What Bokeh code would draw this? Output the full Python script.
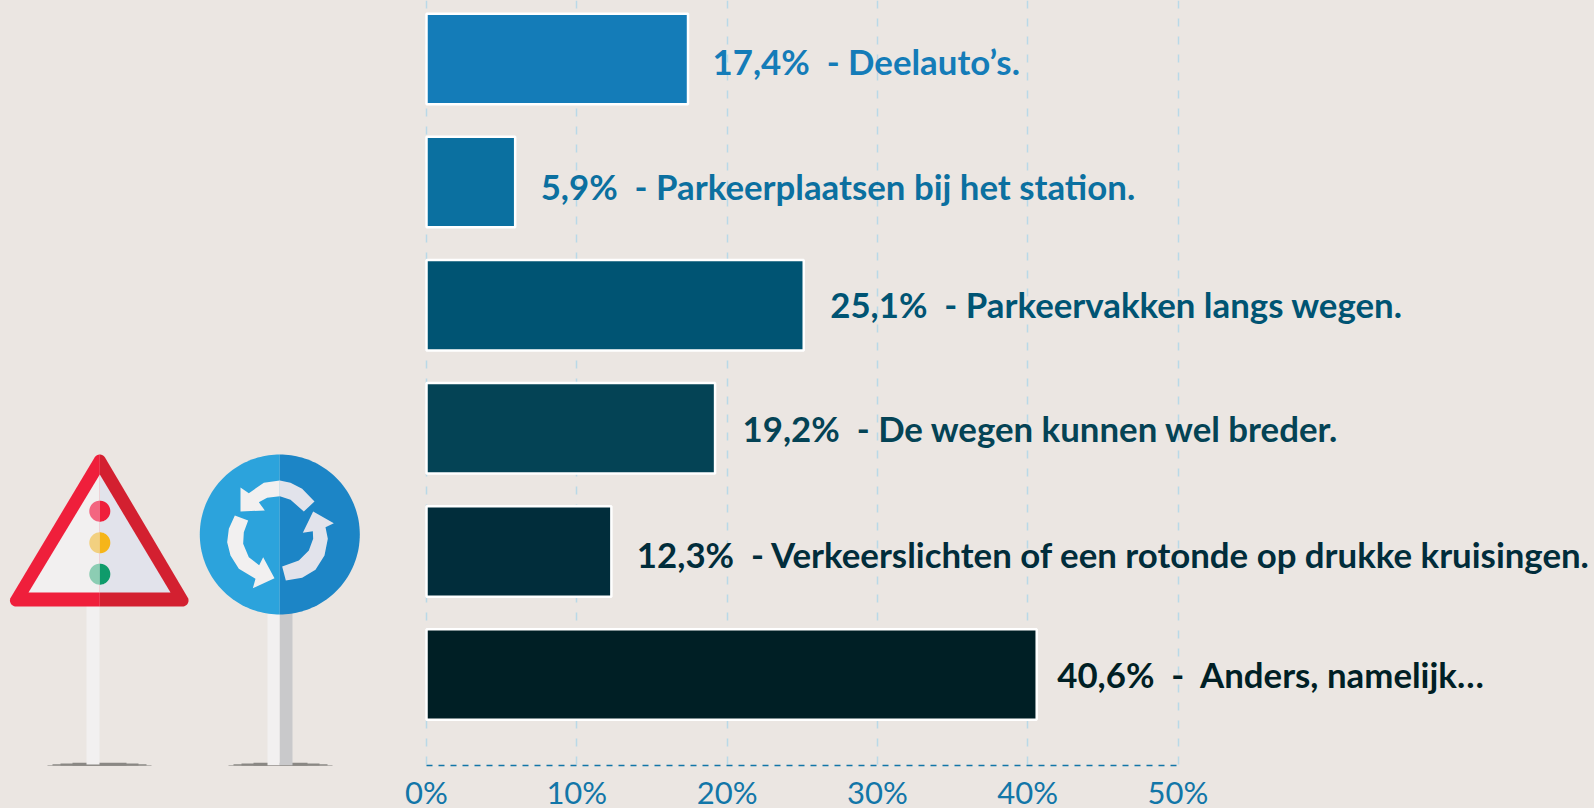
import numpy as np
from bokeh.plotting import figure
from bokeh.models import (BoxAnnotation, ColumnDataSource, FixedTicker, GlobalInlineStyleSheet, Grid, LinearAxis,
                          PrintfTickFormatter, Range1d)
from bokeh.core.properties import value
from bokeh.embed import file_html
from bokeh.resources import INLINE

# ---- data ----
values = [17.4, 5.9, 25.1, 19.2, 12.3, 40.6]
value_labels = ["17,4%", "5,9%", "25,1%", "19,2%", "12,3%", "40,6%"]
answers = ["Deelauto’s.", "Parkeerplaatsen bij het station.", "Parkeervakken langs wegen.",
           "De wegen kunnen wel breder.", "Verkeerslichten of een rotonde op drukke kruisingen.",
           "Anders, namelijk…"]
seps = ["\u00a0\u00a0-\u00a0", "\u00a0\u00a0-\u00a0", "\u00a0\u00a0-\u00a0", "\u00a0\u00a0-\u00a0", "\u00a0\u00a0-\u00a0",
        "\u00a0\u00a0-\u00a0\u00a0"]
colors = ["#147cb8", "#0b70a0", "#005473", "#044355", "#012d3b", "#001f25"]
ticks = [0, 10, 20, 30, 40, 50]
# ---- styles ----
label_dx = [24.5, 25.5, 26.5, 27.5, 25.5, 20.5]
label_dy = [2, 4, -1, 0, 3, 0]
BG = "#ebe6e2"
FONT = "Lato"
AXIS_COLOR = "#1276a8"

W = 1594
AXIS_Y = 765
AXIS_PANEL = 48          # label box height plus standoff; the blank foot of it falls below the window
H = AXIS_Y + AXIS_PANEL
X0, XS = 426, 15.03
Y0, YS = 58.5, 123.1

p = figure(width=W, height=H, output_backend="svg", toolbar_location=None,
           x_range=Range1d(-X0 / XS, (W - X0) / XS),
           y_range=Range1d((AXIS_Y - Y0) / YS, -Y0 / YS),
           x_axis_location=None, y_axis_location=None,
           min_border_left=0, min_border_right=0, min_border_top=0, min_border_bottom=AXIS_PANEL,
           background_fill_color=BG, background_fill_alpha=0, border_fill_color=BG, outline_line_color=None)
p.stylesheets = [GlobalInlineStyleSheet(css=f"html,body{{margin:0;padding:0;background:{BG};overflow:hidden}}")]
p.ygrid.visible = False
p.xgrid.visible = False

p.extra_x_ranges["px"] = Range1d(0, W)
p.extra_y_ranges["px"] = Range1d(AXIS_Y, 0)

axis = LinearAxis(ticker=FixedTicker(ticks=ticks), formatter=PrintfTickFormatter(format="%d%%"),
                  bounds=(0, 50), axis_line_color=AXIS_COLOR, axis_line_width=1.5, axis_line_dash="6 6",
                  major_tick_line_color=None, minor_tick_line_color=None, major_tick_out=0, major_tick_in=0,
                  minor_tick_out=0, minor_tick_in=0,
                  major_label_text_color=AXIS_COLOR, major_label_text_font=FONT,
                  major_label_text_font_size="31px", major_label_standoff=7)
p.add_layout(axis, "below")

grid = Grid(dimension=0, axis=axis, bounds=(-0.45, (AXIS_Y - Y0) / YS), grid_line_color="#b9d9e8",
            grid_line_width=1.5, grid_line_dash="8 10")
p.add_layout(grid)

rank = list(range(len(values)))
src = ColumnDataSource(dict(y=rank, v=values, c=colors,
                            t=[f"{a}{s}{b}" for a, s, b in zip(value_labels, seps, answers)],
                            dx=label_dx, dy=label_dy))
p.hbar(y="y", left=0, right="v", height=0.735, fill_color="c", line_color="white", line_width=2.5, source=src)
p.text(x="v", y="y", text="t", x_offset="dx", y_offset="dy", text_color="c", text_font=value(FONT),
       text_font_style="bold", text_font_size="34.8px", text_baseline="middle", source=src)


# ---- decorative road signs, in page pixels ----
def clip(pts, cx, left):
    out = []
    n = len(pts)
    for i in range(n):
        a, b = pts[i], pts[(i + 1) % n]
        ia = (a[0] <= cx) if left else (a[0] >= cx)
        ib = (b[0] <= cx) if left else (b[0] >= cx)
        if ia:
            out.append(a)
        if ia != ib:
            t = (cx - a[0]) / (b[0] - a[0])
            out.append((cx, a[1] + t * (b[1] - a[1])))
    return out


def shape(pts, color):
    p.patch([q[0] for q in pts], [q[1] for q in pts], fill_color=color, line_color=None,
            x_range_name="px", y_range_name="px")


def split(pts, cx, cl, cr):
    shape(clip(pts, cx, True), cl)
    shape(clip(pts, cx, False), cr)


def circle(cx, cy, r, n=96):
    a = np.linspace(0, 2 * np.pi, n, endpoint=False)
    return [(cx + r * np.cos(t), cy + r * np.sin(t)) for t in a]


def rounded_triangle(v, r):
    pts = []
    for cx, cy, a0, a1 in v:
        for t in np.radians(np.linspace(a0, a1, 14)):
            pts.append((cx + r * np.cos(t), cy + r * np.sin(t)))
    return pts


def zoomed(pts):
    return [(x / 3, 440 + y / 3) for x, y in pts]


def rect(x0, y0, x1, y1):
    return [(x0, y0), (x1, y0), (x1, y1), (x0, y1)]


# ground shadows lie across the frame edge; annotations are not clipped to it.
# Screen units of a box annotation count upward from the frame's bottom edge.
for cx in (99, 280):
    for half_w, half_h in [(52, 0.6), (47, 1.2), (39, 2), (27, 2.7)]:
        p.add_layout(BoxAnnotation(left=cx - half_w, right=cx + half_w, top=half_h, bottom=-half_h,
                                   left_units="screen", right_units="screen", top_units="screen", bottom_units="screen",
                                   fill_color="#8a8884", fill_alpha=1, line_color=None, level="underlay"))

shape(rect(86, 600, 99, 764), "#f2f0f0")
shape(rect(267, 600, 279.3, 765), "#f2f0f0")
shape(rect(279.3, 600, 292, 765), "#c9c9cb")

split(rounded_triangle([(99.3, 460, 210, 330), (182, 600, -30, 90), (15.5, 600, 90, 210)], 6),
      99.3, "#ef1f3b", "#d32030")
split([(99.3, 474), (170, 592), (28, 592)], 99.3, "#f2f0f0", "#e2e3eb")
for cy, cl, cr in [(510.7, "#f36580", "#ef1f3b"), (542.3, "#f2d080", "#f6b519"), (573.7, "#8ccdb3", "#0e9b6b")]:
    split(circle(99.3, cy, 10.5), 99.3, cl, cr)

split(circle(279.3, 534, 80, 180), 279.3, "#2ca3dc", "#1c85c6")
arrow_top = zoomed([(720, 141), (720, 213), (793, 210), (775, 185), (800, 172), (838, 167), (870, 178), (910, 213),
                    (942, 183), (905, 145), (870, 127), (838, 120), (790, 127), (745, 158)])
arrow_right = zoomed([(1000, 248), (938, 213), (907, 277), (937, 272), (938, 295), (925, 330), (895, 360), (845, 378),
                      (856, 420), (905, 412), (945, 388), (972, 345), (982, 295), (975, 260)])
arrow_left = zoomed([(822, 413), (788, 350), (776, 374), (745, 350), (728, 310), (730, 275), (743, 240), (703, 225),
                     (685, 265), (680, 305), (690, 345), (715, 385), (765, 415), (757, 443)])
split(arrow_top, 279.3, "#f2f0f0", "#e2e3eb")
shape(arrow_right, "#e2e3eb")
shape(arrow_left, "#f2f0f0")

open("out.html", "w").write(file_html(p, INLINE))
